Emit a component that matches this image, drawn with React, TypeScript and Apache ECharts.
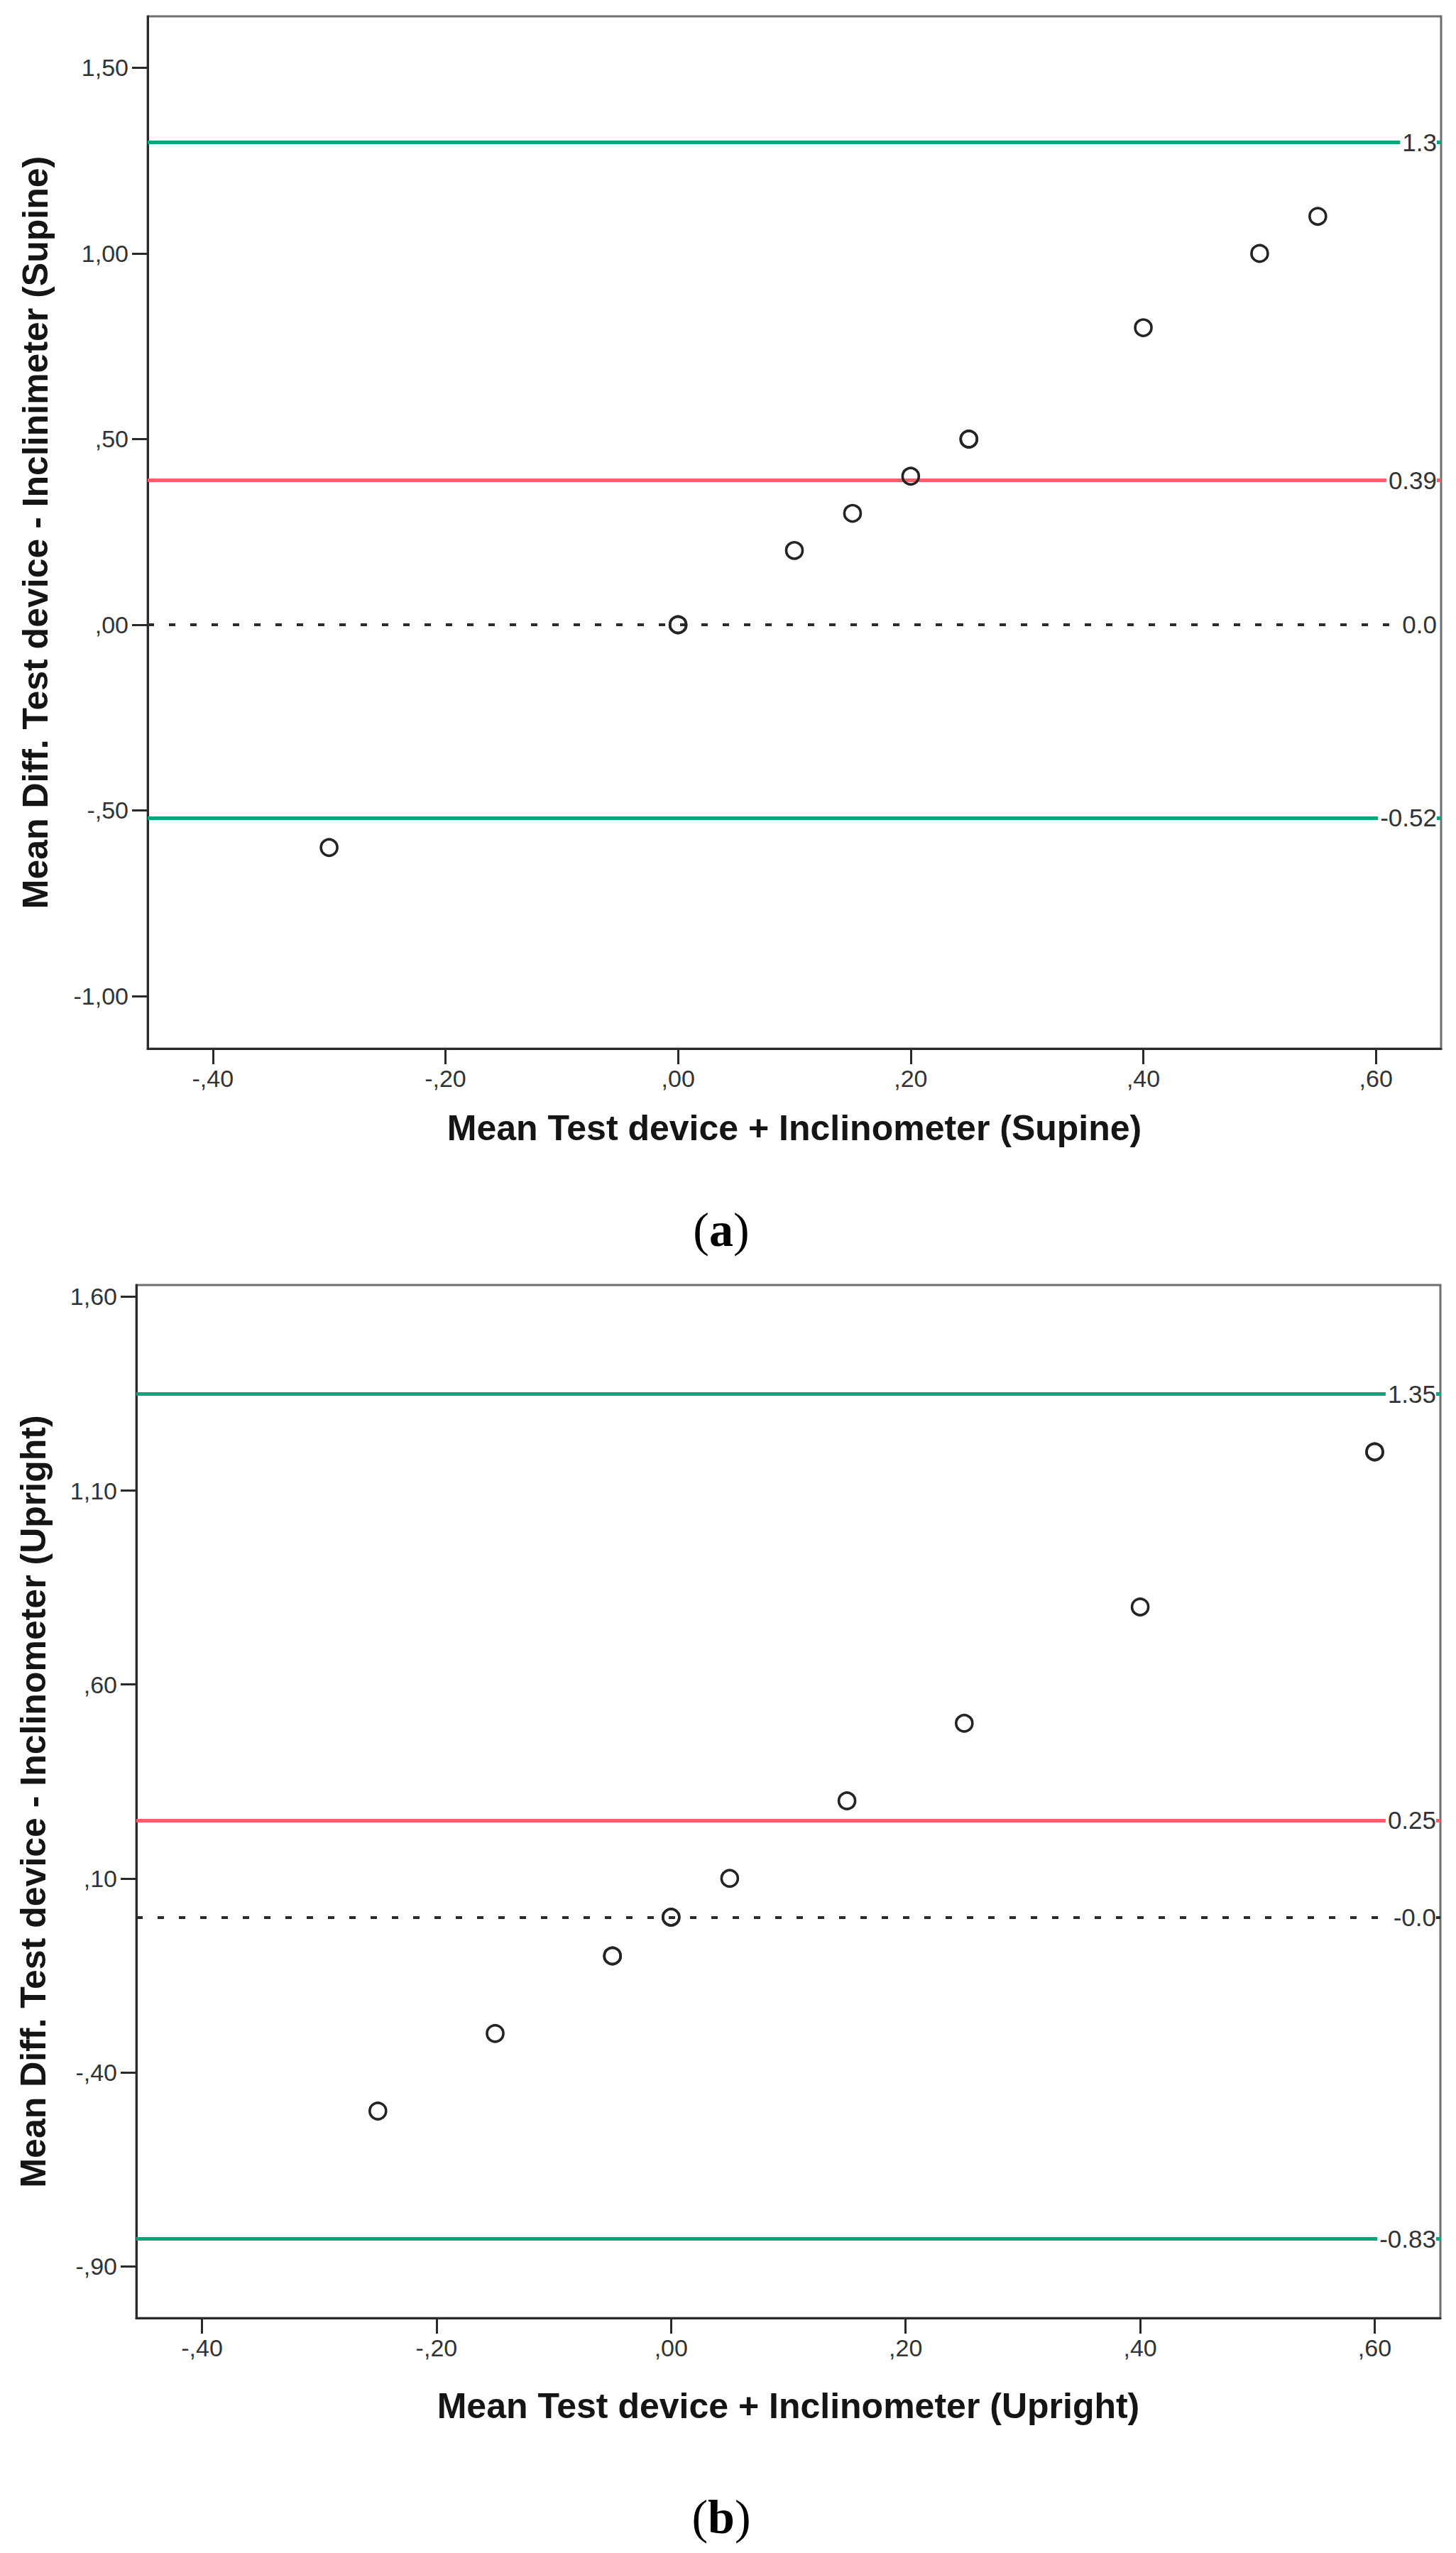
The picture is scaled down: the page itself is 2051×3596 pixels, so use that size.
import React, { useEffect, useRef } from "react";
import * as echarts from "echarts";

// ---- shared x axis ----
const xRange = [-0.456, 0.656];
const xTickValues = [-0.4, -0.2, 0, 0.2, 0.4, 0.6];
const xTickLabels = ["-,40", "-,20", ",00", ",20", ",40", ",60"];

// ---- panel (a) Supine ----
const aYRange = [-1.1415, 1.6386];
const aYTickValues = [-1.0, -0.5, 0, 0.5, 1.0, 1.5];
const aYTickLabels = ["-1,00", "-,50", ",00", ",50", "1,00", "1,50"];
const aMeanX = [-0.3, 0, 0, 0.1, 0.15, 0.2, 0.25, 0.25, 0.4, 0.5, 0.55];
const aDiffY = [-0.6, 0, 0, 0.2, 0.3, 0.4, 0.5, 0.5, 0.8, 1.0, 1.1];
const aLineValues = [1.3, 0.39, 0.0, -0.52];
const aLineLabels = ["1.3", "0.39", "0.0", "-0.52"];
const aLineKinds = ["limit", "mean", "zero", "limit"];
const aXTitle = "Mean Test device + Inclinometer (Supine)";
const aYTitle = "Mean Diff. Test device - Inclinimeter (Supine)";

// ---- panel (b) Upright ----
const bYRange = [-1.0337, 1.6302];
const bYTickValues = [-0.9, -0.4, 0.1, 0.6, 1.1, 1.6];
const bYTickLabels = ["-,90", "-,40", ",10", ",60", "1,10", "1,60"];
const bMeanX = [-0.25, -0.15, -0.05, -0.05, 0, 0, 0.05, 0.15, 0.25, 0.4, 0.6, 0.6];
const bDiffY = [-0.5, -0.3, -0.1, -0.1, 0, 0, 0.1, 0.3, 0.5, 0.8, 1.2, 1.2];
const bLineValues = [1.35, 0.25, 0.0, -0.83];
const bLineLabels = ["1.35", "0.25", "-0.0", "-0.83"];
const bLineKinds = ["limit", "mean", "zero", "limit"];
const bXTitle = "Mean Test device + Inclinometer (Upright)";
const bYTitle = "Mean Diff. Test device - Inclinometer (Upright)";

const captions = ["a", "b"];

const SANS = "'Liberation Sans', Arial, sans-serif";
const SERIF = "'Liberation Serif', 'Times New Roman', serif";

const lineStyleFor = (kind: string) => {
  if (kind === "limit") return { color: "#06a87a", width: 5, type: "solid" as const };
  if (kind === "mean") return { color: "#f3606a", width: 5, type: "solid" as const };
  return { color: "#2b2b2b", width: 4, type: [9, 21] as any };
};

const labelFor = (values: number[], labels: string[]) => (v: number) => {
  const i = values.findIndex((t) => Math.abs(t - v) < 1e-6);
  return i >= 0 ? labels[i] : "";
};

function buildXAxis(gridIndex: number, title: string, gap: number) {
  return {
    type: "value",
    gridIndex,
    min: xRange[0],
    max: xRange[1],
    name: title,
    nameLocation: "middle",
    nameGap: gap,
    nameMoveOverlap: false,
    nameTextStyle: { fontFamily: SANS, fontSize: 50, fontWeight: "bold", color: "#151515" },
    axisLine: { show: true, onZero: false, lineStyle: { color: "#2a2a2a", width: 3 } },
    axisTick: { show: true, inside: false, length: 22, customValues: xTickValues, lineStyle: { color: "#2a2a2a", width: 3 } },
    axisLabel: {
      show: true,
      margin: 25,
      customValues: xTickValues,
      formatter: labelFor(xTickValues, xTickLabels),
      fontFamily: SANS,
      fontSize: 34,
      color: "#333",
    },
    splitLine: { show: false },
  };
}

function buildYAxis(gridIndex: number, range: number[], ticks: number[], labels: string[], title: string, gap: number) {
  return {
    type: "value",
    gridIndex,
    min: range[0],
    max: range[1],
    name: title,
    nameLocation: "middle",
    nameRotate: 90,
    nameGap: gap,
    nameMoveOverlap: false,
    nameTextStyle: { fontFamily: SANS, fontSize: 50, fontWeight: "bold", color: "#151515" },
    axisLine: { show: true, onZero: false, lineStyle: { color: "#2a2a2a", width: 3 } },
    axisTick: { show: true, inside: false, length: 22, customValues: ticks, lineStyle: { color: "#2a2a2a", width: 3 } },
    axisLabel: {
      show: true,
      margin: 27,
      customValues: ticks,
      formatter: labelFor(ticks, labels),
      fontFamily: SANS,
      fontSize: 34,
      color: "#333",
    },
    splitLine: { show: false },
  };
}

function buildSeries(idx: number, xs: number[], ys: number[], lineValues: number[], lineLabels: string[], lineKinds: string[]) {
  return {
    type: "scatter",
    xAxisIndex: idx,
    yAxisIndex: idx,
    symbol: "circle",
    symbolSize: 23,
    silent: true,
    z: 5,
    itemStyle: { color: "rgba(0,0,0,0)", borderColor: "#242424", borderWidth: 3.6, opacity: 1 },
    emphasis: { disabled: true },
    data: xs.map((x, i) => [x, ys[i]]),
    markLine: {
      silent: true,
      symbol: ["none", "none"],
      animation: false,
      z: 3,
      data: lineValues.map((v, i) => ({
        yAxis: v,
        lineStyle: lineStyleFor(lineKinds[i]),
        label: {
          show: true,
          position: "insideEnd",
          distance: 6,
          formatter: lineLabels[i],
          fontFamily: SANS,
          fontSize: 35,
          color: "#333",
          backgroundColor: "#ffffff",
          padding: [2, 0, 2, 3],
        },
        emphasis: { disabled: true },
      })),
    },
  };
}

export default function App() {
  const ref = useRef<HTMLDivElement>(null);

  useEffect(() => {
    document.body.style.margin = "0";
    if (!ref.current) return;
    const chart = echarts.init(ref.current, null, { renderer: "svg" });
    const option: any = {
      animation: false,
      backgroundColor: "#ffffff",
      grid: [
        { left: 208, top: 23, width: 1822, height: 1454, show: true, borderColor: "#6e6e6e", borderWidth: 3, backgroundColor: "transparent", containLabel: false, outerBoundsMode: "none" },
        { left: 192, top: 1810, width: 1837, height: 1455, show: true, borderColor: "#6e6e6e", borderWidth: 3, backgroundColor: "transparent", containLabel: false, outerBoundsMode: "none" },
      ],
      xAxis: [buildXAxis(0, aXTitle, 87), buildXAxis(1, bXTitle, 99)],
      yAxis: [
        buildYAxis(0, aYRange, aYTickValues, aYTickLabels, aYTitle, 133),
        buildYAxis(1, bYRange, bYTickValues, bYTickLabels, bYTitle, 120),
      ],
      series: [
        buildSeries(0, aMeanX, aDiffY, aLineValues, aLineLabels, aLineKinds),
        buildSeries(1, bMeanX, bDiffY, bLineValues, bLineLabels, bLineKinds),
      ],
      graphic: captions.map((c, i) => ({
        type: "text",
        x: 1016,
        y: i === 0 ? 1732 : 3545,
        style: {
          text: "{p|(}{b|" + c + "}{p|)}",
          align: "center",
          verticalAlign: "middle",
          rich: {
            p: { fontFamily: SERIF, fontSize: 68, fontWeight: "normal", fill: "#000", color: "#000" },
            b: { fontFamily: SERIF, fontSize: 68, fontWeight: "bold", fill: "#000", color: "#000" },
          },
        },
      })),
    };
    chart.setOption(option);
    return () => chart.dispose();
  }, []);

  return <div ref={ref} style={{ width: 2051, height: 3596, background: "#fff" }} />;
}
